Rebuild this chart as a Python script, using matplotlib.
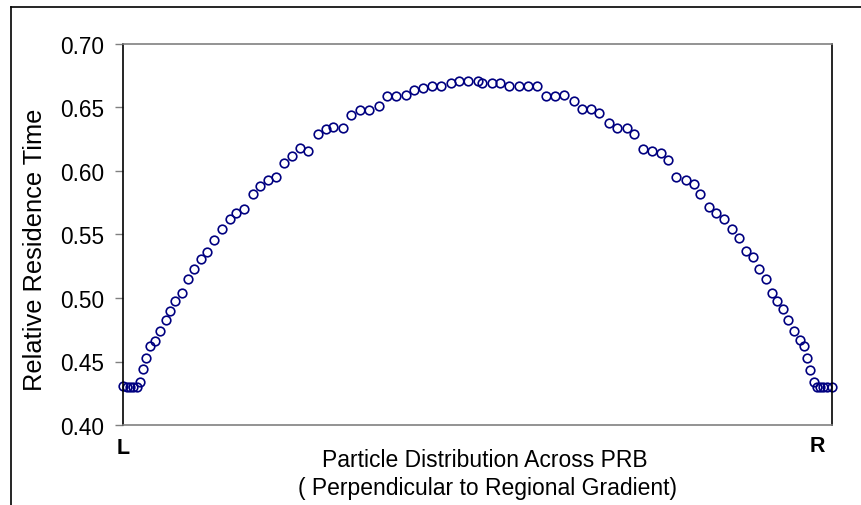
import numpy as np
import matplotlib
matplotlib.use("Agg")
import matplotlib.pyplot as plt
import matplotlib.lines as mlines

# position across the barrier (0 = L side, 1 = R side)
position = [
    0.000, 0.006, 0.010, 0.015, 0.020, 0.024, 0.028, 0.033, 0.038, 0.045,
    0.052, 0.061, 0.067, 0.074, 0.083, 0.092, 0.101, 0.110, 0.119, 0.128,
    0.140, 0.151, 0.160, 0.171, 0.183, 0.194, 0.205, 0.216, 0.227, 0.239,
    0.250, 0.261, 0.275, 0.286, 0.297, 0.311, 0.322, 0.335, 0.347, 0.361,
    0.372, 0.385, 0.399, 0.410, 0.423, 0.436, 0.449, 0.462, 0.474, 0.487,
    0.500, 0.507, 0.521, 0.532, 0.545, 0.559, 0.571, 0.584, 0.597, 0.609,
    0.622, 0.636, 0.647, 0.660, 0.671, 0.685, 0.697, 0.710, 0.721, 0.733,
    0.746, 0.758, 0.769, 0.780, 0.794, 0.805, 0.814, 0.826, 0.836, 0.847,
    0.859, 0.868, 0.879, 0.888, 0.897, 0.907, 0.915, 0.922, 0.931, 0.938,
    0.946, 0.954, 0.960, 0.965, 0.969, 0.974, 0.978, 0.983, 0.987, 0.993,
    0.999,
]

residence_time = [
    0.431, 0.430, 0.430, 0.430, 0.430, 0.434, 0.444, 0.453, 0.462, 0.466,
    0.474, 0.483, 0.490, 0.498, 0.504, 0.515, 0.523, 0.531, 0.536, 0.546,
    0.554, 0.562, 0.567, 0.570, 0.582, 0.588, 0.593, 0.595, 0.606, 0.612,
    0.618, 0.616, 0.629, 0.633, 0.635, 0.634, 0.644, 0.648, 0.648, 0.651,
    0.659, 0.659, 0.660, 0.664, 0.665, 0.667, 0.667, 0.669, 0.671, 0.671,
    0.671, 0.669, 0.669, 0.669, 0.667, 0.667, 0.667, 0.667, 0.659, 0.659,
    0.660, 0.655, 0.649, 0.649, 0.646, 0.638, 0.634, 0.634, 0.629, 0.617,
    0.616, 0.614, 0.609, 0.595, 0.593, 0.590, 0.582, 0.572, 0.567, 0.562,
    0.554, 0.547, 0.537, 0.532, 0.523, 0.515, 0.504, 0.498, 0.491, 0.483,
    0.474, 0.467, 0.462, 0.453, 0.443, 0.434, 0.430, 0.430, 0.430, 0.430,
    0.430,
]

y_ticks = [0.40, 0.45, 0.50, 0.55, 0.60, 0.65, 0.70]

plt.rcParams['font.family'] = ['Liberation Sans', 'DejaVu Sans']

W, H = 861, 506
fig = plt.figure(figsize=(W / 100, H / 100), dpi=100)
ax = fig.add_axes([122.7 / W, 1 - 426 / H, (832.3 - 122.7) / W, (426 - 45) / H])

ax.plot(position, residence_time, linestyle='None', marker='o', markersize=6.2,
        markerfacecolor='none', markeredgecolor='#000080', markeredgewidth=1.2,
        clip_on=False)

ax.set_xlim(0, 1)
ax.set_ylim(0.40, 0.70)
ax.set_xticks([])
ax.set_yticks(y_ticks)
ax.set_yticklabels(['%.2f' % v for v in y_ticks])
ax.tick_params(axis='y', direction='out', length=6, width=1, color='#808080',
               labelsize=16.3, pad=7.5)

ax.spines['left'].set_color('black')
ax.spines['right'].set_color('black')
ax.spines['top'].set_color('#808080')
ax.spines['bottom'].set_color('#808080')
for s in ax.spines.values():
    s.set_linewidth(1.2)

fig.text(35 / W, 1 - 250 / H, 'Relative Residence Time', rotation=90,
         ha='center', va='center', fontsize=18.3)

fig.text(485 / W, 1 - 461 / H, 'Particle Distribution Across PRB',
         ha='center', va='center', fontsize=16.5)
fig.text(487 / W, 1 - 489 / H, '( Perpendicular to Regional Gradient)',
         ha='center', va='center', fontsize=16.5)
fig.text(123.5 / W, 1 - 449 / H, 'L', ha='center', va='center',
         fontsize=15.5, fontweight='bold')
fig.text(817 / W, 1 - 447 / H, 'R', ha='center', va='center',
         fontsize=15.5, fontweight='bold')

# outer frame (cropped on the right and bottom)
fig.add_artist(mlines.Line2D([11 / W, 11 / W], [0, 1 - 8 / H], color='black',
                             linewidth=1.2, transform=fig.transFigure))
fig.add_artist(mlines.Line2D([11 / W, 1], [1 - 8 / H, 1 - 8 / H], color='black',
                             linewidth=1.2, transform=fig.transFigure))

fig.savefig('out.png', dpi=100)
